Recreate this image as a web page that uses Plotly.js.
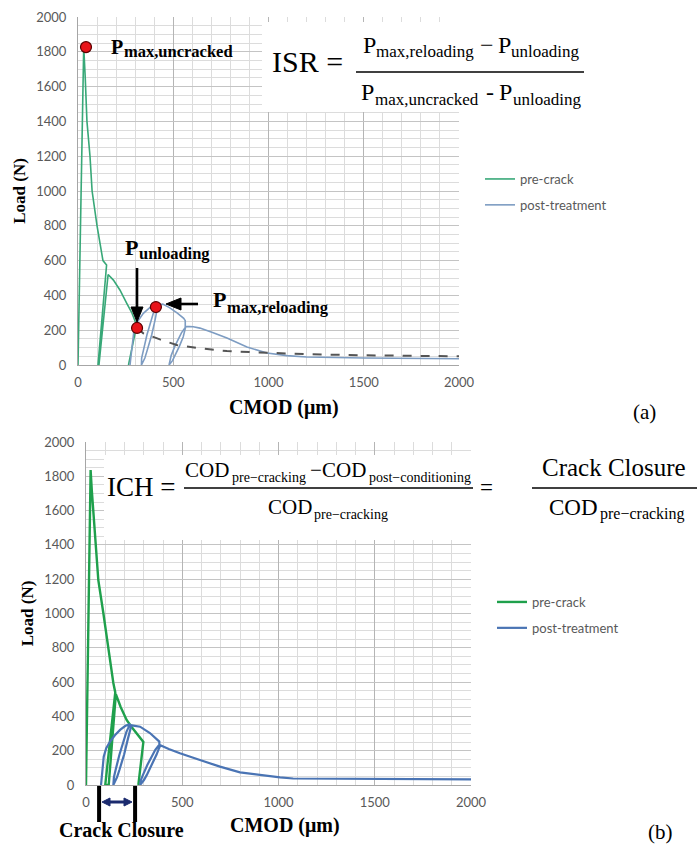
<!DOCTYPE html>
<html><head><meta charset="utf-8">
<script src="https://cdn.plot.ly/plotly-3.0.1.min.js"></script>
<style>html,body{margin:0;padding:0;background:#fff}#g{width:697px;height:847px}</style>
</head><body><div id="g"></div>
<script>
// ---- Data ----
const yTicks = [0,200,400,600,800,1000,1200,1400,1600,1800,2000];
const xTicks = [0,500,1000,1500,2000];
const seriesNames = ['pre-crack','post-treatment'];

// (a) top panel
const preX_a  = [0, 30, 38, 47, 63, 74, 100, 131, 150, 105, 110, 158, 186, 220, 256, 283, 308, 265];
const preY_a  = [0, 1830, 1650, 1400, 1200, 1000, 800, 600, 575, 0, 0, 520, 488, 431, 354, 299, 228, 0];
const postX_a = [273, 282, 294, 311, 343, 378, 416, 396, 385, 362, 344, 334, 333, 351, 364, 387, 405, 413, 420,
                 445, 480, 520, 555, 563, 563, 543, 531, 508, 489, 481, 478, 496, 509, 532, 552, 559, 566,
                 605, 640, 710, 782, 887, 992, 1096, 1200, 1500, 2000];
const postY_a = [0, 105, 201, 247, 297, 331, 348, 300, 261, 174, 87, 40, 0, 40, 87, 174, 261, 300, 345,
                 350, 330, 300, 268, 255, 215, 185, 161, 107, 54, 25, 0, 25, 54, 107, 161, 185, 222,
                 220, 212, 185, 155, 103, 69, 54, 46, 40, 36];
const dashX_a = [310, 343, 430, 518, 640, 782, 1024, 1200, 1500, 2000];
const dashY_a = [213, 182, 147, 115, 96, 80, 69, 62, 56, 50];
const dotX_a  = [42, 310, 409];
const dotY_a  = [1827, 213, 333];

// (b) bottom panel
const preX_b  = [0, 24, 30, 38, 64, 90, 125, 142, 152, 100, 118, 155, 180, 211, 237, 298, 272];
const preY_b  = [0, 1837, 1720, 1586, 1195, 1003, 711, 595, 540, 0, 0, 530, 455, 379, 338, 251, 0];
const postX_b = [78, 84, 92, 105, 125, 150, 177, 205, 229, 210, 197, 174, 154, 145, 142, 161, 174, 198, 217, 226, 236,
                 281, 332, 381, 381, 360, 346, 319, 296, 285, 281, 301, 316, 343, 366, 376, 386,
                 430, 488, 592, 696, 800, 904, 1008, 1076, 1500, 2000];
const postY_b = [0, 90, 165, 215, 253, 290, 321, 345, 355, 310, 266, 178, 89, 45, 0, 45, 89, 178, 266, 310, 348,
                 340, 303, 253, 235, 205, 176, 118, 59, 29, 0, 29, 59, 118, 176, 205, 232,
                 210, 185, 146, 107, 74, 58, 44, 38, 35, 33];
const crackClosure = [68, 255];

// ---- Styling ----
const W = 697, H = 847;
const px = v => v / W;          // pixel -> paper x
const py = v => (H - v) / H;    // pixel -> paper y
const SERIF = 'Liberation Serif';
const serif = 'Liberation Serif, Times New Roman, serif';
const sans = 'Lato, Open Sans, sans-serif';

const traces = [
  {x: preX_a, y: preY_a, name: seriesNames[0], mode: 'lines', line: {color: '#38a878', width: 1.6}, xaxis: 'x', yaxis: 'y', legend: 'legend', legendgroup: 'a1'},
  {x: postX_a, y: postY_a, name: seriesNames[1], mode: 'lines', line: {color: '#7d9cc2', width: 1.6}, xaxis: 'x', yaxis: 'y', legend: 'legend', legendgroup: 'a2'},
  {x: dashX_a, y: dashY_a, mode: 'lines', line: {color: '#555', width: 2, dash: 'dash'}, xaxis: 'x', yaxis: 'y', showlegend: false, hoverinfo: 'skip'},
  {x: dotX_a, y: dotY_a, mode: 'markers', marker: {color: '#e8141a', size: 11, line: {color: '#5a0000', width: 1.2}}, xaxis: 'x', yaxis: 'y', showlegend: false},
  {x: preX_b, y: preY_b, name: seriesNames[0], mode: 'lines', line: {color: '#1fa04c', width: 2.4}, xaxis: 'x2', yaxis: 'y2', legend: 'legend2', legendgroup: 'b1'},
  {x: postX_b, y: postY_b, name: seriesNames[1], mode: 'lines', line: {color: '#4a74b4', width: 2.2}, xaxis: 'x2', yaxis: 'y2', legend: 'legend2', legendgroup: 'b2'}
];

function xAxis(domain, anchor) {
  return {domain: domain, anchor: anchor, range: [0, 2000], tickvals: xTicks, ticktext: xTicks.map(String),
    showgrid: true, gridcolor: '#b5b5b5', gridwidth: 1,
    minor: {dtick: 100, showgrid: true, gridcolor: '#dcdcdc', gridwidth: 1},
    showline: true, linecolor: '#a6a6a6', linewidth: 1, zeroline: false, ticks: '',
    ticklabelstandoff: 5, tickfont: {family: sans, size: 13, color: '#595959'}, fixedrange: true};
}
function yAxis(domain, anchor) {
  return {domain: domain, anchor: anchor, range: [0, 2000], tickvals: yTicks, ticktext: yTicks.map(String),
    showgrid: true, gridcolor: '#c4c4c4', gridwidth: 1,
    minor: {dtick: 50, showgrid: true, gridcolor: '#dcdcdc', gridwidth: 1},
    showline: true, linecolor: '#a6a6a6', linewidth: 1, zeroline: false, ticks: '',
    ticklabelstandoff: 8, tickfont: {family: sans, size: 13, color: '#595959'},
    title: {text: 'Load (N)', font: {family: serif, size: 17, color: '#000', weight: 'bold'}, standoff: 6},
    automargin: false, fixedrange: true};
}

// single text annotation
const A = (x, y, text, size, opts) => Object.assign({xref: 'paper', yref: 'paper', x: px(x), y: py(y),
  xanchor: 'center', yanchor: 'middle', showarrow: false, text: text, font: {family: serif, size: size, color: '#000'}}, opts || {});

// runs of text (main letters and lowered subscripts) laid out side by side
const ctx = document.createElement('canvas').getContext('2d');
function measure(t, s, b) { ctx.font = (b ? 'bold ' : '') + s + 'px "' + SERIF + '"'; return ctx.measureText(t).width; }
function runs(x, yc, parts, align) {
  let total = 0;
  parts.forEach(p => { p.w = measure(p.t, p.s, p.b); total += (p.g || 0) + p.w; });
  let cur = align === 'left' ? x : x - total / 2;
  return parts.map(p => {
    cur += (p.g || 0);
    const a = A(cur, yc + (p.dy || 0), p.b ? '<b>' + p.t + '</b>' : p.t, p.s, {xanchor: 'left', borderpad: 0});
    cur += p.w;
    return a;
  });
}

const ann = [].concat(
  // panel (a)
  runs(110, 47, [{t: 'P', s: 20, b: 1}, {t: 'max,uncracked', s: 16.5, b: 1, dy: 5, g: 1}], 'left'),
  [A(307, 62, 'ISR =', 30)],
  runs(470, 45, [{t: 'P', s: 24}, {t: 'max,reloading', s: 17, dy: 7}, {t: '\u2212', s: 24, g: 6},
                 {t: 'P', s: 24, g: 4}, {t: 'unloading', s: 17, dy: 7}]),
  runs(470, 92, [{t: 'P', s: 24}, {t: 'max,uncracked', s: 17, dy: 7}, {t: '-', s: 24, g: 8},
                 {t: 'P', s: 24, g: 5}, {t: 'unloading', s: 17, dy: 7}]),
  runs(124, 247, [{t: 'P', s: 22, b: 1}, {t: 'unloading', s: 16.5, b: 1, dy: 7, g: 1}], 'left'),
  runs(212, 300, [{t: 'P', s: 22, b: 1}, {t: 'max,reloading', s: 16.5, b: 1, dy: 7, g: 1}], 'left'),
  [A(284, 407, '<b>CMOD (\u03bcm)</b>', 20), A(644, 412, '(a)', 21)],
  // panel (b)
  [A(141, 487, 'ICH =', 27)],
  runs(327, 470, [{t: 'COD', s: 21}, {t: 'pre\u2212cracking', s: 14, dy: 7, g: 2}, {t: '\u2212', s: 21, g: 4},
                  {t: 'COD', s: 21, g: 1}, {t: 'post\u2212conditioning', s: 14, dy: 7, g: 2}]),
  runs(327, 507, [{t: 'COD', s: 21}, {t: 'pre\u2212cracking', s: 14, dy: 7, g: 2}]),
  [A(486, 487, '=', 23), A(614, 467, 'Crack Closure', 25)],
  runs(616, 507, [{t: 'COD', s: 23}, {t: 'pre\u2212cracking', s: 16, dy: 7, g: 2}]),
  [A(121, 830, '<b>Crack Closure</b>', 20), A(285, 825, '<b>CMOD (\u03bcm)</b>', 20), A(660, 832, '(b)', 21)]
);

const L = (x0, y0, x1, y1, color, width) => ({type: 'line', xref: 'paper', yref: 'paper',
  x0: px(x0), y0: py(y0), x1: px(x1), y1: py(y1), line: {color: color, width: width}});
const T = (pts, color) => ({type: 'path', xref: 'paper', yref: 'paper',
  path: 'M ' + pts.map(p => px(p[0]) + ',' + py(p[1])).join(' L ') + ' Z', fillcolor: color, line: {color: color, width: 1}});

const shapes = [
  // white formula boxes
  {type: 'rect', xref: 'paper', yref: 'paper', x0: px(262), x1: px(600), y0: py(112), y1: py(22), fillcolor: '#fff', line: {width: 0}, layer: 'above'},
  {type: 'rect', xref: 'paper', yref: 'paper', x0: px(104), x1: px(697), y0: py(540), y1: py(455), fillcolor: '#fff', line: {width: 0}, layer: 'above'},
  // fraction bars
  L(356, 72, 584, 72, '#000', 1.5),
  L(184, 488, 473, 488, '#000', 1.5),
  L(532, 488, 697, 488, '#000', 1.5),
  // arrows panel (a)
  L(137, 268, 137, 309, '#000', 2.6),
  T([[137, 322], [131, 307], [143, 307]], '#000'),
  L(198, 304, 180, 304, '#000', 2.6),
  T([[166, 304], [181, 298], [181, 310]], '#000'),
  // crack closure bars and double arrow
  {type: 'line', xref: 'x2', yref: 'paper', x0: crackClosure[0], x1: crackClosure[0], y0: py(786), y1: py(822), line: {color: '#000', width: 4}},
  {type: 'line', xref: 'x2', yref: 'paper', x0: crackClosure[1], x1: crackClosure[1], y0: py(786), y1: py(822), line: {color: '#000', width: 4}},
  L(108, 802, 126, 802, '#1b2a6e', 3),
  T([[102, 802], [110, 798], [110, 806]], '#1b2a6e'),
  T([[132, 802], [124, 798], [124, 806]], '#1b2a6e')
];

const layout = {
  width: W, height: H, margin: {l: 0, r: 0, t: 0, b: 0},
  paper_bgcolor: '#fff', plot_bgcolor: '#fff',
  xaxis: xAxis([px(78), px(459)], 'y'),
  yaxis: yAxis([py(365), py(17)], 'x'),
  xaxis2: xAxis([px(86), px(471)], 'y2'),
  yaxis2: yAxis([py(785), py(442)], 'x2'),
  legend: {x: px(480), y: py(164), xanchor: 'left', yanchor: 'top', bgcolor: 'rgba(0,0,0,0)',
    font: {family: sans, size: 13, color: '#595959'}, tracegroupgap: 6, itemwidth: 30},
  legend2: {x: px(492), y: py(587), xanchor: 'left', yanchor: 'top', bgcolor: 'rgba(0,0,0,0)',
    font: {family: sans, size: 13, color: '#595959'}, tracegroupgap: 6, itemwidth: 30},
  annotations: ann, shapes: shapes, showlegend: true
};

Plotly.newPlot('g', traces, layout, {staticPlot: true, displayModeBar: false});
</script></body></html>
